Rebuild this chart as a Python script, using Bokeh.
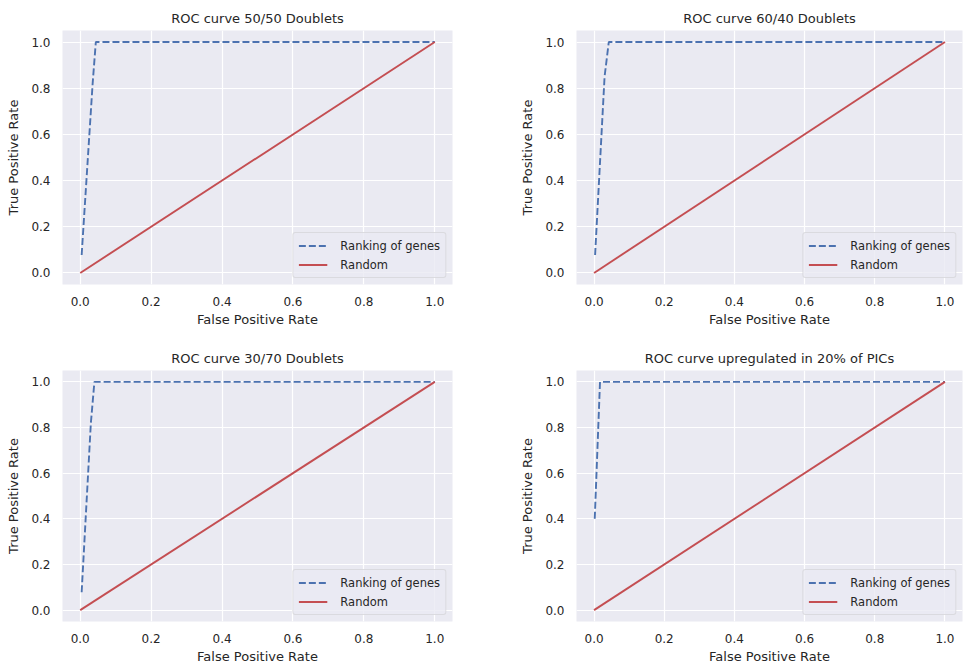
from bokeh.plotting import figure
from bokeh.layouts import gridplot
from bokeh.models import FixedTicker, Legend, LegendItem
from bokeh.embed import file_html
from bokeh.resources import INLINE

titles = ["ROC curve 50/50 Doublets", "ROC curve 60/40 Doublets",
          "ROC curve 30/70 Doublets", "ROC curve upregulated in 20% of PICs"]
fpr_1 = [0.004, 0.035, 0.044, 1.0]
tpr_1 = [0.078, 0.82, 1.0, 1.0]
fpr_2 = [0.003, 0.030, 0.042, 1.0]
tpr_2 = [0.078, 0.85, 1.0, 1.0]
fpr_3 = [0.004, 0.030, 0.040, 1.0]
tpr_3 = [0.078, 0.82, 1.0, 1.0]
fpr_4 = [0.002, 0.017, 1.0]
tpr_4 = [0.40, 1.0, 1.0]
rand_x = [0.0, 1.0]
rand_y = [0.0, 1.0]
ticks = [0.0, 0.2, 0.4, 0.6, 0.8, 1.0]
tick_labels = {t: f"{t:.1f}" for t in ticks}

FONT = "DejaVu Sans"
BLUE = "#4C72B0"
RED = "#C44E52"
TXT = "#262626"

def make(i, fx, fy, left_fig):
    top_row = i < 2
    w = 517 if left_fig else 446
    p = figure(width=w, height=340 if top_row else 326, output_backend="svg",
               toolbar_location=None, x_range=(-0.05, 1.05), y_range=(-0.05, 1.05),
               min_border_left=(62 if left_fig else 52),
               min_border_right=(65 if left_fig else 1),
               min_border_top=30,
               min_border_bottom=(56 if top_row else 43))
    p.title.text = titles[i]
    p.title.align = "center"
    p.title.text_font = FONT
    p.title.text_font_size = "13px"
    p.title.text_font_style = "normal"
    p.title.text_color = TXT
    p.background_fill_color = "#EAEAF2"
    p.border_fill_color = "white"
    p.outline_line_color = None
    for ax in (p.xaxis[0], p.yaxis[0]):
        ax.ticker = FixedTicker(ticks=ticks)
        ax.major_label_overrides = tick_labels
        ax.axis_line_color = None
        ax.major_tick_line_color = None
        ax.minor_tick_line_color = None
        ax.major_label_text_font = FONT
        ax.major_label_text_font_size = "12px"
        ax.major_label_text_color = TXT
        ax.axis_label_text_font = FONT
        ax.axis_label_text_font_size = "13px"
        ax.axis_label_text_font_style = "normal"
        ax.axis_label_text_color = TXT
        ax.major_label_standoff = 6
    p.xaxis.axis_label = "False Positive Rate"
    p.yaxis.axis_label = "True Positive Rate"
    p.xaxis.axis_label_standoff = 3
    p.yaxis.axis_label_standoff = 7
    p.grid.grid_line_color = "white"
    p.grid.grid_line_width = 1.2
    r1 = p.line(fx, fy, line_color=BLUE, line_width=1.9, line_dash="7 3")
    r2 = p.line(rand_x, rand_y, line_color=RED, line_width=1.9)
    leg = Legend(items=[LegendItem(label="Ranking of genes", renderers=[r1]),
                        LegendItem(label="Random", renderers=[r2])],
                 location="bottom_right")
    leg.label_text_font = FONT
    leg.label_text_font_size = "11.5px"
    leg.label_text_color = TXT
    leg.background_fill_color = "#EAEAF2"
    leg.background_fill_alpha = 0.8
    leg.border_line_color = "#CCCCCC"
    leg.border_radius = 3
    leg.glyph_width = 29
    leg.glyph_height = 15
    leg.label_height = 15
    leg.label_standoff = 13
    leg.spacing = 4
    leg.padding = 5
    leg.margin = 6
    p.add_layout(leg, "center")
    return p

p1 = make(0, fpr_1, tpr_1, True)
p2 = make(1, fpr_2, tpr_2, False)
p3 = make(2, fpr_3, tpr_3, True)
p4 = make(3, fpr_4, tpr_4, False)

grid = gridplot([[p1, p2], [p3, p4]], toolbar_location=None)
open("out.html", "w").write(file_html(grid, INLINE))
